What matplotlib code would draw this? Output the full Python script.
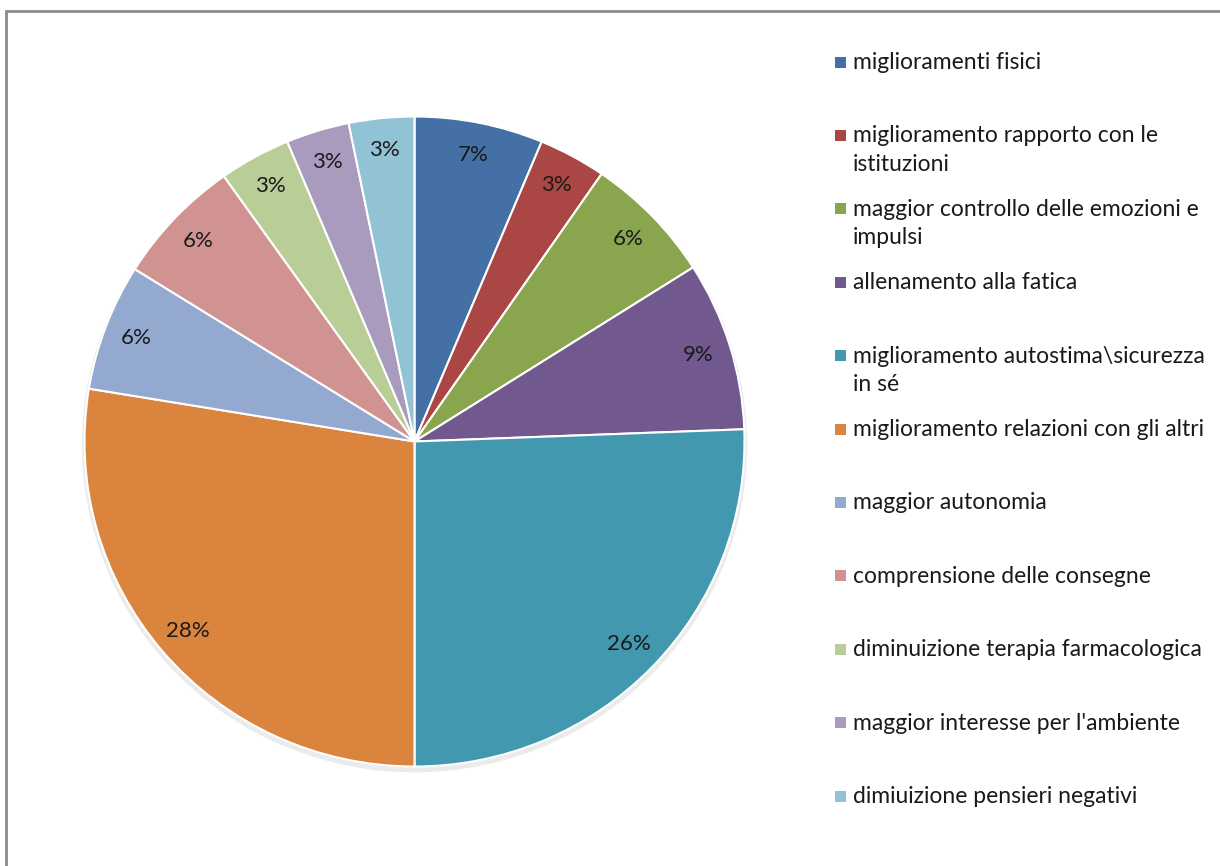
import matplotlib
matplotlib.use("Agg")
import matplotlib.pyplot as plt
from matplotlib.patches import Rectangle, Ellipse

# ── Data ────────────────────────────────────────────────────────
labels = [
    "miglioramenti fisici",
    "miglioramento rapporto con le\nistituzioni",
    "maggior controllo delle emozioni e\nimpulsi",
    "allenamento alla fatica",
    "miglioramento autostima\\sicurezza\nin sé",
    "miglioramento relazioni con gli altri",
    "maggior autonomia",
    "comprensione delle consegne",
    "diminuizione terapia farmacologica",
    "maggior interesse per l'ambiente",
    "dimiuizione pensieri negativi",
]
# slice shares as drawn
shares = [6.3, 3.3, 6.4, 8.4, 25.6, 27.6, 6.3, 6.3, 3.5, 3.1, 3.2]
# percentages as printed on the slices
pct_labels = ["7%", "3%", "6%", "9%", "26%", "28%", "6%", "6%", "3%", "3%", "3%"]
colors = ["#4470A5", "#AA4643", "#89A54E", "#71588F", "#4198AF", "#DB843D",
          "#93A9CF", "#D19392", "#B9CD96", "#A99BBD", "#92C3D5"]

plt.rcParams["font.family"] = ["Lato", "DejaVu Sans"]

W, H = 1220, 866
fig = plt.figure(figsize=(W / 100, H / 100), dpi=100)
fig.patch.set_facecolor("white")

# outer frame (runs off the right/bottom edge)
fig.patches.append(Rectangle((6 / W, -0.05), 1.1, 1 - 11 / H + 0.05,
                             transform=fig.transFigure, fill=False,
                             edgecolor="#8c8c8c", linewidth=2))

# ── Pie ─────────────────────────────────────────────────────────
cx, cy, rx, ry = 414.5, 441.5, 330, 325
ax = fig.add_axes([(cx - rx) / W, (H - cy - ry) / H, 2 * rx / W, 2 * ry / H])
# soft shadow under the pie
ax.add_patch(Ellipse((0, -0.01), 2.016, 2.016, facecolor="#d8d8d8",
                     edgecolor="none", alpha=0.5, zorder=0, clip_on=False))
wedges, texts = ax.pie(
    shares, colors=colors, startangle=90, counterclock=False, radius=1,
    labels=pct_labels, labeldistance=0.9,
    wedgeprops=dict(edgecolor="white", linewidth=1.5),
    textprops=dict(fontsize=16, color="#1a1a1a"),
)
for t in texts:
    t.set_ha("center")
    t.set_va("center")
ax.set_xlim(-1.0, 1.0)
ax.set_ylim(-1.0, 1.0)
ax.set_aspect("auto")
ax.axis("off")

# ── Legend ──────────────────────────────────────────────────────
y0, step = 62, 73.4
for i, (lab, col) in enumerate(zip(labels, colors)):
    y = y0 + i * step
    fig.patches.append(Rectangle((835 / W, (H - y - 5.5) / H), 11 / W, 11 / H,
                                 transform=fig.transFigure,
                                 facecolor=col, edgecolor="none"))
    fig.text(853 / W, (H - y + 10) / H, lab, fontsize=16.5, color="#1a1a1a",
             va="top", ha="left", linespacing=1.45,
             transform=fig.transFigure)

fig.savefig("out.png", dpi=100)
